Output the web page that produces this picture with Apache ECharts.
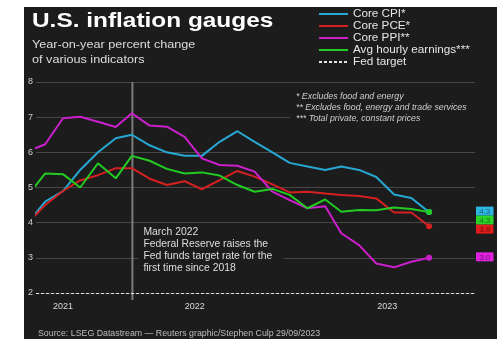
<!DOCTYPE html>
<html>
<head>
<meta charset="utf-8">
<script src="https://cdn.jsdelivr.net/npm/echarts@6/dist/echarts.min.js"></script>
<style>
  html, body { margin: 0; padding: 0; background: #ffffff; }
  #panel { position: absolute; left: 24px; top: 7px; width: 473px; height: 332px; background: #1c1c1c; }
  #chart { position: absolute; left: 0; top: 0; width: 497px; height: 339px; }
</style>
</head>
<body>
<div id="panel"></div>
<div id="chart"></div>
<script>
// Monthly readings, plotted at mid-month
const months = [
  '2021-09', '2021-10', '2021-11', '2021-12',
  '2022-01', '2022-02', '2022-03', '2022-04', '2022-05', '2022-06',
  '2022-07', '2022-08', '2022-09', '2022-10', '2022-11', '2022-12',
  '2023-01', '2023-02', '2023-03', '2023-04', '2023-05', '2023-06',
  '2023-07', '2023-08'
];
const coreCPI = [4.0, 4.6, 4.9, 5.5, 6.0, 6.4, 6.5, 6.2, 6.0, 5.9, 5.9, 6.3,
                 6.6, 6.3, 6.0, 5.7, 5.6, 5.5, 5.6, 5.5, 5.3, 4.8, 4.7, 4.3];
const corePCE = [4.0, 4.5, 4.9, 5.2, 5.35, 5.55, 5.55, 5.25, 5.07, 5.18, 4.95, 5.21,
                 5.47, 5.31, 5.09, 4.86, 4.88, 4.83, 4.79, 4.76, 4.69, 4.29, 4.29, 3.9];
const corePPI = [6.03, 6.23, 6.97, 7.01, 6.87, 6.72, 7.11, 6.76, 6.73, 6.44, 5.83, 5.64,
                 5.62, 5.45, 4.88, 4.64, 4.41, 4.47, 3.70, 3.36, 2.84, 2.73, 2.89, 3.0];
const avgHourlyEarnings = [4.78, 5.40, 5.38, 5.0, 5.69, 5.26, 5.90, 5.76, 5.53, 5.40, 5.43, 5.34,
                           5.07, 4.88, 4.96, 4.79, 4.41, 4.66, 4.31, 4.36, 4.35, 4.43, 4.39, 4.3];
const fedTarget = 2;
const yMin = 2, yMax = 8, yStep = 1;
const yearLabels = ['2021', '2022', '2023'];
const xStart = '2021-09-29';
const xEnd = '2023-11-03';
const hikeDate = '2022-03-16';

const seriesDefs = [
  { name: 'Core CPI*', values: coreCPI, color: '#27a8d2', box: '#2cb6e4' },
  { name: 'Core PCE*', values: corePCE, color: '#d42020', box: '#e01c1c' },
  { name: 'Core PPI**', values: corePPI, color: '#cc1fcc', box: '#e022e0' },
  { name: 'Avg hourly earnings***', values: avgHourlyEarnings, color: '#22cc22', box: '#2ad42a' }
];

const FONT = '"Liberation Sans", Arial, sans-serif';
const BG = '#1c1c1c';
const tm = s => echarts.time.parse(s).getTime();

const chart = echarts.init(document.getElementById('chart'), null, { renderer: 'canvas' });

const lineSeries = seriesDefs.map(def => ({
  name: def.name,
  type: 'line',
  symbol: 'none',
  color: def.color,
  lineStyle: { width: 2, color: def.color },
  emphasis: { disabled: true },
  animation: false,
  z: 3,
  data: months.map((m, i) => {
    const item = { value: [tm(m + '-15'), def.values[i]] };
    if (i === months.length - 1) {
      item.symbol = 'circle';
      item.symbolSize = 6;
      item.itemStyle = { color: def.color };
    }
    return item;
  })
}));

const fedSeries = {
  name: 'Fed target',
  type: 'line',
  symbol: 'none',
  color: '#e4e4e4',
  lineStyle: { width: 1, type: [3, 2], color: '#e4e4e4' },
  data: [],
  animation: false,
  markLine: {
    silent: true,
    symbol: ['none', 'none'],
    label: { show: false },
    lineStyle: { width: 1, type: [3, 2], color: '#e4e4e4' },
    animation: false,
    data: [{ yAxis: fedTarget }]
  }
};

chart.setOption({
  backgroundColor: 'transparent',
  animation: false,
  grid: { left: 36, right: 22, top: 82, bottom: 46, containLabel: false },
  legend: {
    orient: 'vertical',
    left: 318,
    top: 8,
    padding: 0,
    itemWidth: 29,
    itemHeight: 10,
    itemGap: 0,
    selectedMode: false,
    itemStyle: { opacity: 0 },
    textStyle: { color: '#e6e6e6', fontSize: 11.7, fontFamily: FONT, lineHeight: 12 },
    data: seriesDefs.map(d => d.name).concat(['Fed target'])
  },
  xAxis: {
    type: 'time',
    min: tm(xStart),
    max: tm(xEnd),
    axisLine: { show: false },
    axisTick: { show: false },
    axisLabel: { show: false },
    splitLine: { show: false }
  },
  yAxis: {
    type: 'value',
    min: yMin,
    max: yMax,
    interval: yStep,
    axisLine: { show: false },
    axisTick: { show: false },
    axisLabel: { color: '#cfcfcf', fontSize: 9, fontFamily: FONT, margin: 3 },
    splitLine: { lineStyle: { color: '#474747', width: 1 } }
  },
  series: lineSeries.concat([fedSeries])
});

// Overlays positioned from the axes
const px = (d, v) => chart.convertToPixel({ gridIndex: 0 }, [tm(d), v]);
const graphics = [];

// Title and subtitle
graphics.push({
  type: 'text', x: 32, y: 21, scaleX: 1.22, z: 10,
  style: { text: 'U.S. inflation gauges', fill: '#ffffff', font: 'bold 20px ' + FONT, verticalAlign: 'middle' }
});
graphics.push({
  type: 'text', x: 32, y: 45, scaleX: 1.15, z: 10,
  style: { text: 'Year-on-year percent change', fill: '#dcdcdc', font: '11px ' + FONT, verticalAlign: 'middle' }
});
graphics.push({
  type: 'text', x: 32, y: 59.5, scaleX: 1.15, z: 10,
  style: { text: 'of various indicators', fill: '#dcdcdc', font: '11px ' + FONT, verticalAlign: 'middle' }
});

// Footnotes, on a patch that hides the gridline beneath
graphics.push({ type: 'rect', z: 1, shape: { x: 290, y: 91, width: 190, height: 32 }, style: { fill: BG } });
['* Excludes food and energy',
 '** Excludes food, energy and trade services',
 '*** Total private, constant prices'].forEach((t, i) => {
  graphics.push({
    type: 'text', x: 296, y: 97 + i * 10.7, z: 10,
    style: { text: t, fill: '#cfcfcf', font: 'italic 8.8px ' + FONT, verticalAlign: 'middle' }
  });
});

// First rate hike marker
const hikeX = px(hikeDate, yMax)[0];
const topY = px(hikeDate, yMax)[1];
const baseY = px(hikeDate, yMin)[1];
graphics.push({
  type: 'line', z: 2,
  shape: { x1: hikeX, y1: topY, x2: hikeX, y2: baseY + 7 },
  style: { stroke: '#7c7c7c', lineWidth: 2 }
});
const noteTop = px(hikeDate, 3)[1] - 32;
graphics.push({
  type: 'rect', z: 1,
  shape: { x: hikeX + 6, y: noteTop - 1, width: 145, height: 50 },
  style: { fill: BG }
});
graphics.push({
  type: 'text', x: hikeX + 11, y: noteTop, z: 10,
  style: {
    text: 'March 2022\nFederal Reserve raises the\nFed funds target rate for the\nfirst time since 2018',
    fill: '#dedede', font: '10.4px ' + FONT, lineHeight: 12, verticalAlign: 'top'
  }
});

// Year labels centred on each year's visible span
const x0 = tm(xStart), x1 = tm(xEnd);
yearLabels.forEach(y => {
  const a = Math.max(x0, tm(y + '-01-01'));
  const b = Math.min(x1, tm((+y + 1) + '-01-01'));
  const xa = chart.convertToPixel({ gridIndex: 0 }, [a, yMin])[0];
  const xb = chart.convertToPixel({ gridIndex: 0 }, [b, yMin])[0];
  graphics.push({
    type: 'text', x: (xa + xb) / 2, y: baseY + 14, z: 10,
    style: { text: y, fill: '#dcdcdc', font: '9px ' + FONT, align: 'center', verticalAlign: 'middle' }
  });
});

// Latest-value tags at the right edge, stacked so they do not overlap
const lastIdx = months.length - 1;
const tags = seriesDefs.map((d, k) => ({ d, k, v: d.values[lastIdx], y: px(months[lastIdx] + '-15', d.values[lastIdx])[1] }))
  .sort((p, q) => (q.v - p.v) || (p.k - q.k));
const tagH = 9;
let prevY = -Infinity;
tags.forEach(t => {
  const cy = Math.max(t.y - 1, prevY + tagH);
  prevY = cy;
  const gx = chart.convertToPixel({ gridIndex: 0 }, [x1, yMin])[0] + 1;
  graphics.push({
    type: 'rect', z: 10,
    shape: { x: gx, y: cy - tagH / 2, width: 17.5, height: tagH },
    style: { fill: t.d.box }
  });
  graphics.push({
    type: 'text', x: gx + 8.75, y: cy + 0.5, z: 11,
    style: { text: t.v.toFixed(1), fill: 'rgba(0,0,0,0.5)', font: '8px ' + FONT, align: 'center', verticalAlign: 'middle' }
  });
});

// Source line
graphics.push({
  type: 'text', x: 38, y: 334, z: 10,
  style: { text: 'Source: LSEG Datastream \u2014 Reuters graphic/Stephen Culp 29/09/2023', fill: '#bdbdbd', font: '8.8px ' + FONT, verticalAlign: 'middle' }
});

chart.setOption({ graphic: { elements: graphics } });
</script>
</body>
</html>
